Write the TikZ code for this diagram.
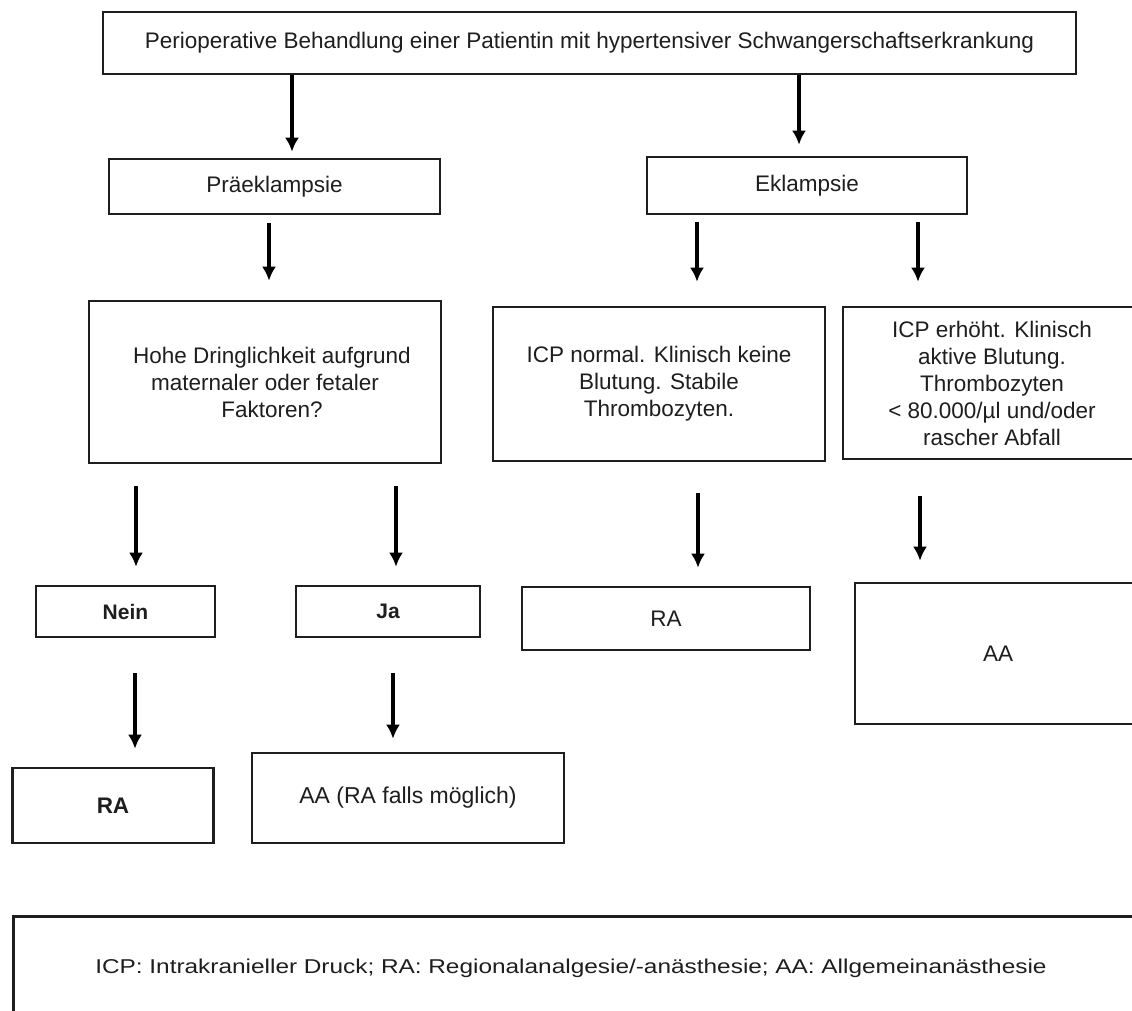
\documentclass[tikz,border=0pt]{standalone}
\usepackage{fontspec}
\setmainfont{Liberation Sans}
\newfontfamily\legendfont[FakeStretch=1.22]{Liberation Sans}
\usepackage{tikz}
\usetikzlibrary{arrows.meta,calc}
\definecolor{ink}{HTML}{1E1E1E}
\tikzset{
  font=\fontsize{22.5}{27}\selectfont,
  >={Latex[length=14pt,width=14pt]},
  box/.style  = {draw=ink, line width=2.6pt, fill=white, align=center,
                 text=ink, inner sep=3pt},
  arr/.style  = {->, draw=black, line width=3.2pt},
  small/.style = {font=\fontsize{21}{25}\selectfont\bfseries},
}

\begin{document}
\begin{tikzpicture}[x=1pt, y=-1pt]
\useasboundingbox (0,0) rectangle (1132,1010);
\clip (0,0) rectangle (1132,1010);

% ---- top -------------------------------------------------------------
\node[box, minimum width=973pt, minimum height=62pt] at (589.5,43) (top)
  {Perioperative Behandlung einer Patientin mit hypertensiver Schwangerschaftserkrankung};

% ---- the two cases (y = 186) ----------------------------------------
\node[box, minimum width=331pt, minimum height=55pt] at (274.5,186.5) (prae) {Präeklampsie};
\node[box, minimum width=320pt, minimum height=57pt] at (807,185.5) (ekl) {Eklampsie};

% ---- questions and findings (y = 383) -------------------------------
\node[box, minimum width=352pt, minimum height=162pt] at (265,382) (hohe)
  {\hspace*{14pt}Hohe Dringlichkeit aufgrund\\maternaler oder fetaler\\\hspace*{14pt}Faktoren?};
\node[box, minimum width=332pt, minimum height=154pt] at (659,384) (icpn)
  {ICP normal. Klinisch keine\\Blutung. Stabile\\Thrombozyten.};
\node[box, minimum width=298pt, minimum height=152pt] at (992,383) (icpe)
  {ICP erhöht. Klinisch\\aktive Blutung.\\Thrombozyten\\< 80.000/µl und/oder\\rascher Abfall};

% ---- answers (y = 612) ----------------------------------------------
\node[box, small, minimum width=179pt, minimum height=51pt] at (125.5,611.5) (nein) {Nein};
\node[box, small, minimum width=184pt, minimum height=51pt] at (388,611.5) (ja) {Ja};
\node[box, minimum width=288pt, minimum height=63pt] at (666,618.5) (ram) {RA};
\node[box, minimum width=286pt, minimum height=141pt] at (998,653.5) (aar) {AA};

% ---- outcome (y = 800) ----------------------------------------------
\node[box, font=\fontsize{22.5}{27}\selectfont\bfseries, minimum width=201pt, minimum height=75pt]
  at (113,805.5) (rab) {RA};
\node[box, font=\fontsize{23}{27}\selectfont, minimum width=312pt, minimum height=90pt]
  at (408,798) (aab) {AA (RA falls möglich)};

% ---- legend ---------------------------------------------------------
\node[box, anchor=north west, minimum height=104pt, text width=1000pt,
      inner xsep=82pt, align=left, font=\legendfont\fontsize{20}{24}\selectfont]
  at (12,915) (legend)
  {ICP: Intrakranieller Druck; RA: Regionalanalgesie/-anästhesie; AA: Allgemeinanästhesie};

% ---- arrows ---------------------------------------------------------
\draw[arr, shorten >=6pt]  ($(prae.north |- top.south)+(17.5,0)$) -- ($(prae.north)+(17.5,0)$);
\draw[arr, shorten >=11pt] ($(ekl.north |- top.south)+(-8,0)$) -- ($(ekl.north)+(-8,0)$);
\draw[arr, shorten <=8pt, shorten >=19pt] ($(prae.south)+(-5.5,0)$) -- ($(prae.south |- hohe.north)+(-5.5,0)$);
\draw[arr, shorten <=7pt, shorten >=24pt] ($(icpn.north |- ekl.south)+(38,0)$) -- ($(icpn.north)+(38,0)$);
\draw[arr, shorten <=7pt, shorten >=24pt] ($(icpe.north |- ekl.south)+(-74,0)$) -- ($(icpe.north)+(-74,0)$);

\draw[arr, shorten <=22pt, shorten >=18pt] ($(nein.north |- hohe.south)+(10.5,0)$) -- ($(nein.north)+(10.5,0)$);
\draw[arr, shorten <=22pt, shorten >=18pt] ($(ja.north |- hohe.south)+(8,0)$) -- ($(ja.north)+(8,0)$);
\draw[arr, shorten <=31pt, shorten >=18pt] ($(ram.north |- icpn.south)+(32,0)$) -- ($(ram.north)+(32,0)$);
\draw[arr, shorten <=36pt, shorten >=21pt] ($(aar.north |- icpe.south)+(-78,0)$) -- ($(aar.north)+(-78,0)$);

\draw[arr, shorten <=35pt, shorten >=18pt] ($(rab.north |- nein.south)+(22,0)$) -- ($(rab.north)+(22,0)$);
\draw[arr, shorten <=35pt, shorten >=13pt] ($(aab.north |- ja.south)+(-15,0)$) -- ($(aab.north)+(-15,0)$);

\end{tikzpicture}
\end{document}
